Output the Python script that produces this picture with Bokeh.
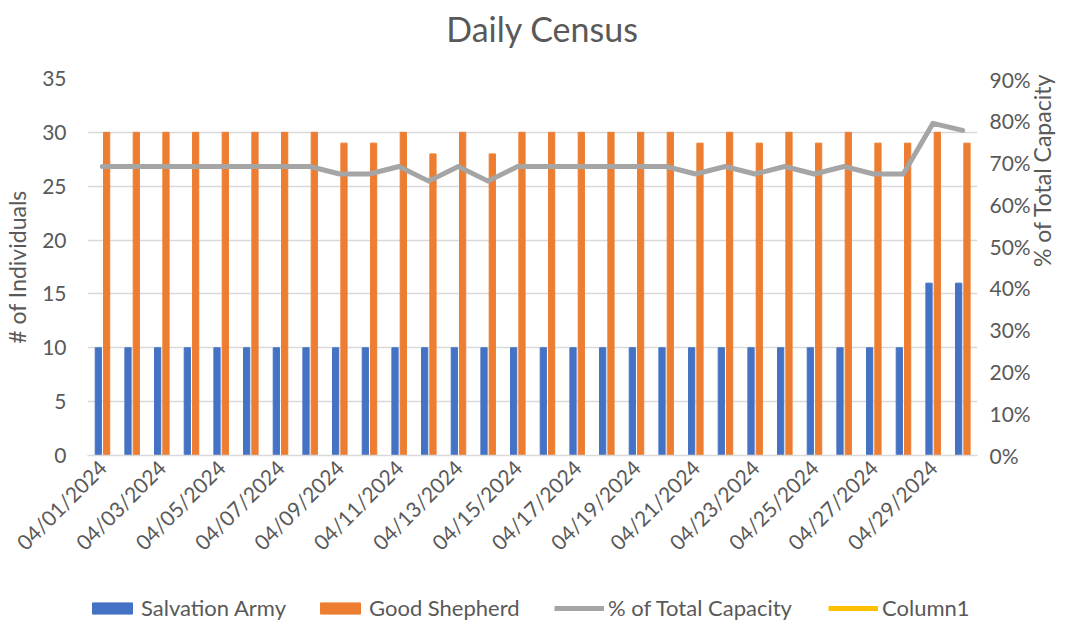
import math
from bokeh.plotting import figure
from bokeh.layouts import column
from bokeh.models import (LinearAxis, Range1d, FixedTicker, NumeralTickFormatter,
                          Legend, LegendItem, Label, ColumnDataSource)
from bokeh.transform import dodge
from bokeh.embed import file_html
from bokeh.resources import INLINE

# ---- data ----
dates = ["04/01/2024", "04/02/2024", "04/03/2024", "04/04/2024", "04/05/2024",
         "04/06/2024", "04/07/2024", "04/08/2024", "04/09/2024", "04/10/2024",
         "04/11/2024", "04/12/2024", "04/13/2024", "04/14/2024", "04/15/2024",
         "04/16/2024", "04/17/2024", "04/18/2024", "04/19/2024", "04/20/2024",
         "04/21/2024", "04/22/2024", "04/23/2024", "04/24/2024", "04/25/2024",
         "04/26/2024", "04/27/2024", "04/28/2024", "04/29/2024", "04/30/2024"]
salvation_army = [10, 10, 10, 10, 10, 10, 10, 10, 10, 10,
                  10, 10, 10, 10, 10, 10, 10, 10, 10, 10,
                  10, 10, 10, 10, 10, 10, 10, 10, 16, 16]
good_shepherd = [30, 30, 30, 30, 30, 30, 30, 30, 29, 29,
                 30, 28, 30, 28, 30, 30, 30, 30, 30, 30,
                 29, 30, 29, 30, 29, 30, 29, 29, 30, 29]
pct_capacity = [0.690, 0.690, 0.690, 0.690, 0.690, 0.690, 0.690, 0.690, 0.672, 0.672,
                0.690, 0.655, 0.690, 0.655, 0.690, 0.690, 0.690, 0.690, 0.690, 0.690,
                0.672, 0.690, 0.672, 0.690, 0.672, 0.690, 0.672, 0.672, 0.793, 0.776]
left_ticks = [0, 5, 10, 15, 20, 25, 30, 35]
right_ticks = [0, 0.1, 0.2, 0.3, 0.4, 0.5, 0.6, 0.7, 0.8, 0.9]
series_names = ["Salvation Army", "Good Shepherd", "% of Total Capacity", "Column1"]
series_colors = ["#4472C4", "#ED7D31", "#A5A5A5", "#FFC000"]

pos = list(range(1, len(dates) + 1))
src = ColumnDataSource(dict(x=pos, sa=salvation_army, gs=good_shepherd, pct=pct_capacity))

FONT = "Lato"
GREY_TXT = "#595959"
W = 1075
H_TITLE, H_MAIN, H_LEG = 66, 502, 56
FL, FR, FT, FB = 84, 977, 12, 389   # frame box inside the main figure

# ---------- title strip ----------
tf = figure(width=W, height=H_TITLE, output_backend="svg", toolbar_location=None,
            x_range=Range1d(0, 1), y_range=Range1d(0, 1),
            x_axis_location=None, y_axis_location=None, min_border=0)
tf.outline_line_color = None
tf.grid.visible = False
tf.add_layout(Label(x=455, y=H_TITLE - 28, x_units="screen", y_units="screen",
                    text="Daily Census", text_font=FONT, text_font_size="34px",
                    text_color=GREY_TXT, text_align="center", text_baseline="middle"))

# ---------- main chart ----------
p = figure(width=W, height=H_MAIN, output_backend="svg", toolbar_location=None,
           x_range=Range1d(0.5, len(dates) + 0.5), y_range=Range1d(0, 35),
           min_border_left=FL, min_border_right=W - FR,
           min_border_top=FT, min_border_bottom=H_MAIN - FB)
p.outline_line_color = None
p.extra_y_ranges = {"pct": Range1d(0, 0.9)}

sa_r = p.vbar(x=dodge("x", -0.135), top="sa", width=0.21, source=src, color=series_colors[0])
gs_r = p.vbar(x=dodge("x", 0.145), top="gs", width=0.21, source=src, color=series_colors[1])
ln_r = p.line(x="x", y="pct", source=src, y_range_name="pct", line_width=5,
              color=series_colors[2], line_join="round", line_cap="round")

ya = p.yaxis[0]
ya.ticker = FixedTicker(ticks=left_ticks)
ya.axis_line_color = None
ya.major_tick_line_color = None
ya.minor_tick_line_color = None
ya.major_tick_out = 0
ya.major_tick_in = 0
ya.major_label_standoff = 21
ya.major_label_text_font = FONT
ya.major_label_text_font_size = "21px"
ya.major_label_text_color = GREY_TXT
ya.axis_label = "# of Individuals"
ya.axis_label_text_font = FONT
ya.axis_label_text_font_size = "23px"
ya.axis_label_text_font_style = "normal"
ya.axis_label_text_color = GREY_TXT
ya.axis_label_standoff = 8

ra = LinearAxis(y_range_name="pct", ticker=FixedTicker(ticks=right_ticks),
                formatter=NumeralTickFormatter(format="0%"))
ra.axis_line_color = None
ra.major_tick_line_color = None
ra.minor_tick_line_color = None
ra.major_tick_out = 0
ra.major_tick_in = 0
ra.major_label_standoff = 12
ra.major_label_text_font = FONT
ra.major_label_text_font_size = "21px"
ra.major_label_text_color = GREY_TXT
ra.axis_label = "% of Total Capacity"
ra.axis_label_text_font = FONT
ra.axis_label_text_font_size = "23px"
ra.axis_label_text_font_style = "normal"
ra.axis_label_text_color = GREY_TXT
ra.axis_label_standoff = 8
ra.axis_label_orientation = math.pi / 2
p.add_layout(ra, "right")

xa = p.xaxis[0]
xa.ticker = FixedTicker(ticks=pos[::2])
xa.major_label_overrides = {i: d for i, d in zip(pos, dates)}
xa.major_label_orientation = 0.785398
xa.axis_line_color = "#D9D9D9"
xa.axis_line_width = 1.5
xa.major_tick_line_color = None
xa.minor_tick_line_color = None
xa.major_tick_out = 0
xa.major_tick_in = 0
xa.major_label_text_font = FONT
xa.major_label_text_font_size = "21px"
xa.major_label_text_color = GREY_TXT
xa.major_label_standoff = 8

p.xgrid.grid_line_color = None
p.ygrid.ticker = FixedTicker(ticks=left_ticks)
p.ygrid.grid_line_color = "#D9D9D9"
p.ygrid.grid_line_width = 1.5

# ---------- legend strip ----------
lf = figure(width=W, height=H_LEG, output_backend="svg", toolbar_location=None,
            x_range=Range1d(0, 1), y_range=Range1d(0, 1),
            x_axis_location=None, y_axis_location=None, min_border=0)
lf.outline_line_color = None
lf.grid.visible = False
leg_r = [lf.vbar(x=[-5], top=[-5], bottom=[-6], width=1, color=series_colors[0]),
         lf.vbar(x=[-5], top=[-5], bottom=[-6], width=1, color=series_colors[1]),
         lf.line(x=[-6, -5], y=[-5, -5], line_width=5, color=series_colors[2]),
         lf.line(x=[-6, -5], y=[-5, -5], line_width=5, color=series_colors[3])]
leg_x = [0, 228, 467, 741]
for name, r, lx in zip(series_names, leg_r, leg_x):
    lg = Legend(items=[LegendItem(label=name, renderers=[r])],
                location=(lx, 3), orientation="horizontal", padding=0, margin=0,
                spacing=0, border_line_color=None, background_fill_alpha=0,
                glyph_width=50, glyph_height=14, label_standoff=4,
                label_text_font=FONT, label_text_font_size="22px",
                label_text_color=GREY_TXT, label_height=20)
    lf.add_layout(lg, "center")

layout = column(tf, p, lf, spacing=0)
open("out.html", "w").write(file_html(layout, INLINE))
